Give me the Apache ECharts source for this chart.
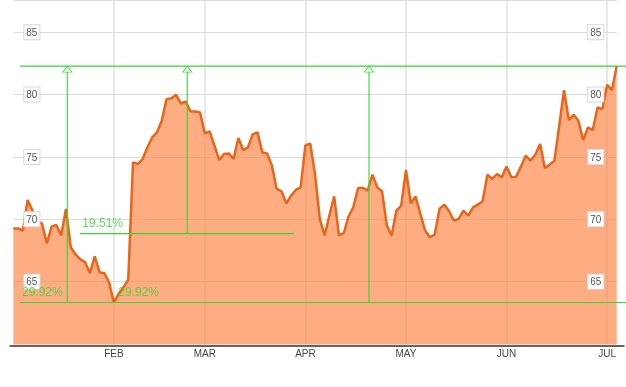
<!DOCTYPE html>
<html>
<head>
<meta charset="utf-8">
<style>html,body{margin:0;padding:0;background:#fff;}#c{width:626px;height:387px;}</style>
<script src="https://cdn.jsdelivr.net/npm/echarts@6.0.0/dist/echarts.min.js"></script>
</head>
<body>
<div id="c"></div>
<script>
// Trading calendar (2014, Jan 2 .. Jul 3)
const startDate = [2014, 0, 2];
const endDate = [2014, 6, 3];
const holidays = ['2014-01-20', '2014-02-17', '2014-04-18', '2014-05-26'];
const monthLabels = ['JAN','FEB','MAR','APR','MAY','JUN','JUL','AUG','SEP','OCT','NOV','DEC'];

// Daily closing prices
const prices = [
  69.26, 69.26, 69.10, 71.55, 70.70, 69.82, 69.66, 68.06, 69.42, 69.54,
  68.70, 70.83, 67.76, 67.18, 66.78, 66.56, 65.68, 67.02, 65.76, 65.68,
  64.94, 63.33, 64.03, 64.54, 65.15, 74.56, 74.43, 74.83, 75.76, 76.56,
  76.96, 77.90, 79.63, 79.71, 79.98, 79.28, 79.44, 78.66, 78.64, 78.56,
  76.88, 77.04, 75.90, 74.75, 75.23, 75.28, 74.83, 76.51, 75.55, 75.76,
  76.83, 76.96, 75.36, 75.28, 74.30, 72.43, 72.24, 71.28, 71.90, 72.35,
  72.56, 75.94, 76.06, 73.63, 70.03, 68.70, 70.30, 71.84, 68.70, 68.88,
  70.22, 70.96, 72.51, 72.51, 72.30, 73.58, 72.56, 72.24, 69.50, 68.70,
  70.70, 71.10, 73.95, 71.28, 71.82, 70.43, 69.10, 68.56, 68.78, 70.83,
  71.18, 70.64, 69.90, 70.03, 70.70, 70.30, 70.96, 71.18, 71.44, 73.58,
  73.23, 73.63, 73.36, 74.24, 73.36, 73.42, 74.22, 75.10, 74.70, 75.18,
  76.03, 74.11, 74.38, 74.70, 77.50, 80.35, 77.95, 78.38, 77.90, 76.35,
  77.36, 77.15, 78.96, 78.83, 80.78, 80.35, 82.28
];

const yTicks = [65, 70, 75, 80, 85];

// Measurement annotations (x in trading-day index units, y in price)
const lowLevel = 63.33;
const highLevel = 82.28;
const midLevel = 68.85;
const spanX = [1.40, 127.94];
const midSpanX = [13.93, 58.61];
const markerX = [11.28, 36.33, 74.27];
const markerBottoms = [lowLevel, midLevel, lowLevel];
const gainLabels = ['29.92%', '29.92%', '19.51%'];
const gainLabelX = [1.82, 21.93, 14.41];
const gainLabelY = [64.12, 64.12, 69.62];

function buildDays() {
  const out = [];
  let t = Date.UTC(startDate[0], startDate[1], startDate[2]);
  const end = Date.UTC(endDate[0], endDate[1], endDate[2]);
  while (t <= end) {
    const d = new Date(t);
    const wd = d.getUTCDay();
    const s = d.toISOString().slice(0, 10);
    if (wd !== 0 && wd !== 6 && holidays.indexOf(s) < 0) out.push(s);
    t += 86400000;
  }
  return out;
}
const dates = buildDays();
function isMonthStart(i) {
  return i > 0 && dates[i] && dates[i - 1] && dates[i].slice(5, 7) !== dates[i - 1].slice(5, 7);
}

const W = 626;
const GRID_L = 13.3, GRID_R = 9.3, GRID_T = -1, GRID_B = 43;
const Y_MIN = 60, Y_MAX = 87.58;
// annotation grid spans to the right edge of the canvas with the same scale
const annoMax = (dates.length - 1) * (W - GRID_L) / (W - GRID_L - GRID_R);

const GREEN = '#33d833';
const FONT = '"Liberation Sans", Arial, sans-serif';

const chart = echarts.init(document.getElementById('c'), null, { renderer: 'canvas' });

const yLabelRich = {
  b: {
    fontSize: 10, color: '#555', fontFamily: FONT,
    backgroundColor: '#fff', borderColor: '#d8d8d8', borderWidth: 1,
    padding: [3, 2, 1, 2], lineHeight: 10
  }
};
const yLabelFmt = v => (yTicks.indexOf(v) >= 0 ? '{b|' + v + '}' : '');

const series = [
  {
    type: 'line',
    data: prices,
    xAxisIndex: 0, yAxisIndex: 0,
    symbol: 'none',
    lineStyle: { color: '#e8651a', width: 2.5 },
    areaStyle: { color: 'rgba(252,138,76,0.70)', opacity: 1, origin: 'start' },
    z: 2
  }
];

const segs = [
  [[spanX[0], highLevel], [spanX[1], highLevel]],
  [[spanX[0], lowLevel], [spanX[1], lowLevel]],
  [[midSpanX[0], midLevel], [midSpanX[1], midLevel]]
];
markerX.forEach((x, k) => segs.push([[x, markerBottoms[k]], [x, highLevel]]));
segs.forEach(d => series.push({
  type: 'line', xAxisIndex: 1, yAxisIndex: 3, data: d, symbol: 'none',
  clip: false, silent: true,
  lineStyle: { color: GREEN, width: 1.1 }, z: 5
}));

series.push({
  type: 'scatter', xAxisIndex: 1, yAxisIndex: 3, clip: false, silent: true,
  data: markerX.map(x => [x, highLevel]),
  symbol: 'triangle', symbolSize: [9, 6], symbolOffset: [0, 3],
  itemStyle: { color: '#fff', borderColor: GREEN, borderWidth: 1 },
  z: 6
});

series.push({
  type: 'scatter', xAxisIndex: 1, yAxisIndex: 3, clip: false, silent: true,
  data: gainLabels.map((t, k) => ({ value: [gainLabelX[k], gainLabelY[k]], name: t })),
  symbolSize: 0,
  label: {
    show: true, position: 'right', distance: 0,
    formatter: p => p.name,
    color: GREEN, fontSize: 12, fontFamily: FONT
  },
  z: 20
});

chart.setOption({
  animation: false,
  backgroundColor: '#fff',
  grid: [
    { left: GRID_L, right: GRID_R, top: GRID_T, bottom: GRID_B, containLabel: false },
    { left: GRID_L, right: 0, top: GRID_T, bottom: GRID_B, containLabel: false }
  ],
  xAxis: [
    {
      type: 'category', gridIndex: 0, data: dates, boundaryGap: false,
      axisLine: { show: false },
      axisTick: { show: false },
      axisLabel: {
        interval: (i) => isMonthStart(i),
        formatter: v => monthLabels[parseInt(v.slice(5, 7), 10) - 1],
        color: '#444', fontSize: 10, fontFamily: FONT, margin: 5
      },
      splitLine: {
        show: true, interval: (i) => isMonthStart(i),
        lineStyle: { color: '#e0e0e0', width: 1.5 }
      }
    },
    { type: 'value', gridIndex: 1, min: 0, max: annoMax, show: false }
  ],
  yAxis: [
    {
      type: 'value', gridIndex: 0, position: 'left', min: Y_MIN, max: Y_MAX, interval: 5,
      axisLine: { show: false }, axisTick: { show: false }, axisLabel: { show: false },
      splitLine: { show: true, lineStyle: { color: '#dcdcdc', width: 1 } }
    },
    {
      type: 'value', gridIndex: 0, position: 'right', min: Y_MIN, max: Y_MAX, interval: 5, z: 10,
      axisLine: { show: false }, axisTick: { show: false },
      axisLabel: { inside: true, margin: 13.4, formatter: yLabelFmt, rich: yLabelRich },
      splitLine: { show: false }
    },
    {
      type: 'value', gridIndex: 0, position: 'left', min: Y_MIN, max: Y_MAX, interval: 5, z: 10,
      axisLine: { show: false }, axisTick: { show: false },
      axisLabel: { inside: true, margin: 11, formatter: yLabelFmt, rich: yLabelRich },
      splitLine: { show: false }
    },
    { type: 'value', gridIndex: 1, min: Y_MIN, max: Y_MAX, show: false }
  ],
  graphic: [
    {
      type: 'line', left: 7, top: 343.5, silent: true, z: 10,
      shape: { x1: 0, y1: 0, x2: 615, y2: 0 },
      style: { stroke: '#3b2e24', lineWidth: 1.5 }
    }
  ],
  series: series
});
</script>
</body>
</html>
